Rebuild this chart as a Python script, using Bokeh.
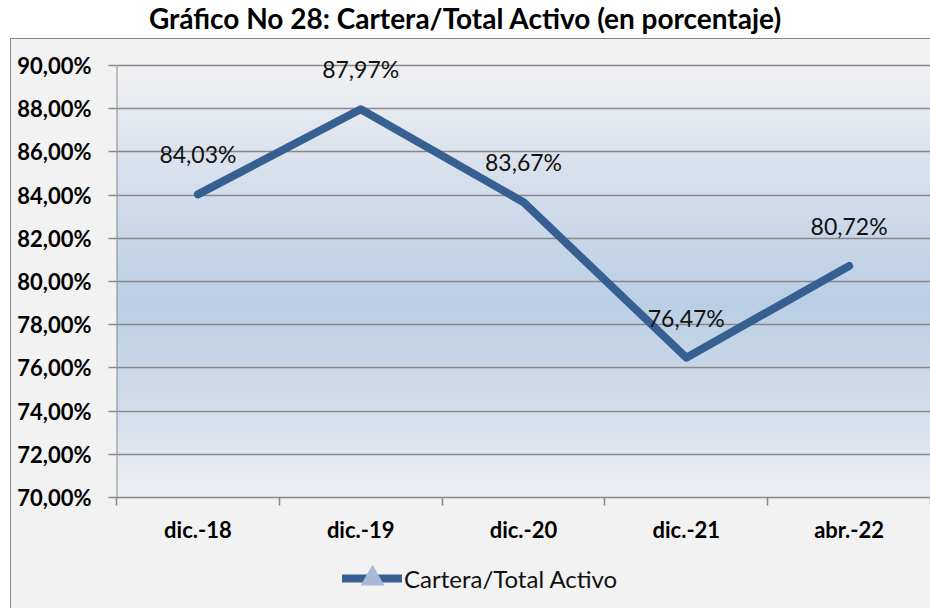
import numpy as np
from bokeh.plotting import figure
from bokeh.models import (FixedTicker, Legend, LegendItem, ColumnDataSource, Div,
                          LabelSet, Range1d)
from bokeh.core.properties import value
from bokeh.layouts import column
from bokeh.embed import file_html
from bokeh.resources import INLINE

title_text = "Gráfico No 28: Cartera/Total Activo (en porcentaje)"
categories = ["dic.-18", "dic.-19", "dic.-20", "dic.-21", "abr.-22"]
values = [84.03, 87.97, 83.67, 76.47, 80.72]
series_name = "Cartera/Total Activo"
y_ticks = [70, 72, 74, 76, 78, 80, 82, 84, 86, 88, 90]

# background gradient stops (y value, r, g, b)
grad_y = [70, 71, 74.5, 79, 84, 88.5, 90]
grad_r = [238, 232, 209, 186, 211, 233, 241]
grad_g = [240, 236, 220, 207, 221, 236, 242]
grad_b = [245, 242, 234, 229, 235, 241, 244]

FONT = "Lato"
GRID = "#888888"
LINE = "#376092"
TRI = "#A7B8D8"

W = 930
H_MAIN = 507
H_LEG = 63
FRAME_H = 433          # pixel height between 70% and 90%
TOP_PAD_PX = 27        # room above the 90% line for data labels

title = Div(text=title_text, width=W, height=38, margin=0,
            styles={"text-align": "center", "font-family": FONT, "font-weight": "bold",
                    "font-size": "28px", "line-height": "36px", "color": "#000000",
                    "background-color": "#FFFFFF"})

y0, y1 = y_ticks[0], y_ticks[-1]
y_top = y1 + TOP_PAD_PX * (y1 - y0) / FRAME_H
n = len(categories)
p = figure(width=W, height=H_MAIN, output_backend="svg", toolbar_location=None,
           x_range=Range1d(0, n), y_range=Range1d(y0, y_top),
           min_border_left=116, min_border_top=0, min_border_bottom=47, min_border_right=0,
           border_fill_alpha=0, background_fill_alpha=0)
p.styles = {"background-color": "#F2F2F2",
            "box-shadow": "inset 10px 0 0 #FFFFFF, inset 11px 0 0 #868686, inset 0 1px 0 #868686"}
p.outline_line_color = None

# gradient background of the plot area (70% .. 90%)
rows = 200
ys = np.linspace(y0, y1, rows)
r = np.interp(ys, grad_y, grad_r).astype(np.uint32)
g = np.interp(ys, grad_y, grad_g).astype(np.uint32)
b = np.interp(ys, grad_y, grad_b).astype(np.uint32)
img = (255 << 24) | (b << 16) | (g << 8) | r
img = img.reshape(rows, 1).astype(np.uint32)
p.image_rgba(image=[img], x=0, y=y0, dw=n, dh=y1 - y0, level="image")

# vertical axis line only from 70% to 90%
p.segment(x0=[0], y0=[y0], x1=[0], y1=[y1], line_color=GRID, line_width=2, level="underlay")

xs = np.arange(n) + 0.5
src = ColumnDataSource(dict(x=xs, y=values,
                            lab=[f"{v:.2f}".replace(".", ",") + "%" for v in values]))

p.line("x", "y", source=src, line_width=8, line_color=LINE,
       line_cap="round", line_join="round")

labels = LabelSet(x="x", y="y", text="lab", source=src, y_offset=40,
                  text_align="center", text_baseline="middle",
                  text_font=value(FONT), text_font_size=value("23px"), text_color="#111111")
p.add_layout(labels)

# y axis
p.yaxis.ticker = FixedTicker(ticks=y_ticks)
p.yaxis.major_label_overrides = {t: f"{t:.2f}".replace(".", ",") + "%" for t in y_ticks}
p.yaxis.major_label_text_font = FONT
p.yaxis.major_label_text_font_style = "bold"
p.yaxis.major_label_text_font_size = "22px"
p.yaxis.major_label_text_color = "#000000"
p.yaxis.axis_line_color = None
p.yaxis.major_tick_line_color = GRID
p.yaxis.major_tick_line_width = 1.5
p.yaxis.major_tick_out = 8
p.yaxis.major_tick_in = 0
p.yaxis.minor_tick_line_color = None
p.yaxis.major_label_standoff = 17

# x axis
p.xaxis.ticker = FixedTicker(ticks=list(xs), minor_ticks=list(range(n + 1)))
p.xaxis.major_label_overrides = {float(x): c for x, c in zip(xs, categories)}
p.xaxis.major_label_text_font = FONT
p.xaxis.major_label_text_font_style = "bold"
p.xaxis.major_label_text_font_size = "22px"
p.xaxis.major_label_text_color = "#000000"
p.xaxis.axis_line_color = GRID
p.xaxis.axis_line_width = 1.5
p.xaxis.major_tick_line_color = None
p.xaxis.minor_tick_line_color = GRID
p.xaxis.minor_tick_line_width = 1.5
p.xaxis.minor_tick_out = 8
p.xaxis.minor_tick_in = 0
p.xaxis.major_label_standoff = 10

p.xgrid.visible = False
p.ygrid.ticker = FixedTicker(ticks=y_ticks)
p.ygrid.grid_line_color = GRID
p.ygrid.grid_line_width = 1.5

# legend strip (same gray chart area, below the plot)
pl = figure(width=W, height=H_LEG, output_backend="svg", toolbar_location=None,
            x_range=Range1d(0, 1), y_range=Range1d(0, 1),
            min_border=0, border_fill_alpha=0, background_fill_alpha=0)
pl.styles = {"background-color": "#F2F2F2",
             "box-shadow": "inset 10px 0 0 #FFFFFF, inset 11px 0 0 #868686"}
pl.outline_line_color = None
pl.axis.visible = False
pl.grid.visible = False
leg_line = pl.line("x", "y", source=src, line_width=8, line_color=LINE, line_cap="round")
leg_tri = pl.scatter("x", "y", source=src, marker="triangle", fill_color=TRI, line_color=None)
legend = Legend(items=[LegendItem(label=series_name, renderers=[leg_line, leg_tri])],
                location=(226, 0), orientation="horizontal",
                glyph_width=60, glyph_height=60, label_standoff=2,
                label_text_font=FONT, label_text_font_size="24px",
                label_text_color="#111111", padding=0, margin=0,
                border_line_color=None, background_fill_alpha=0)
pl.add_layout(legend, "center")

layout = column(title, p, pl, spacing=0)
open("out.html", "w").write(file_html(layout, INLINE))
